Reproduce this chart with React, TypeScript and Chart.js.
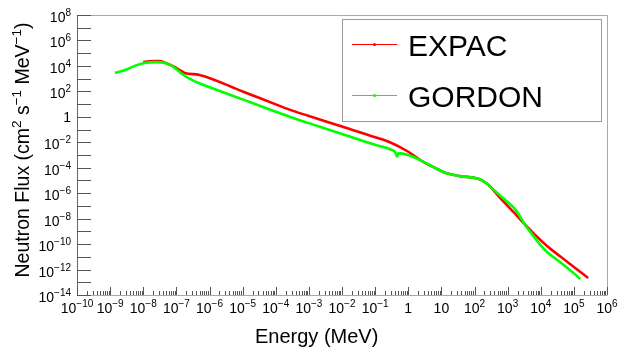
import React, { useEffect, useRef } from "react";
import { Chart, registerables } from "chart.js";

Chart.register(...registerables);

// ---- data (energy in MeV, flux in cm^-2 s^-1 MeV^-1) ----
const expacEnergy = [
  1.0e-8, 1.5e-8, 2.2e-8, 3.2e-8, 5.0e-8, 9.0e-8, 1.4e-7, 1.8e-7, 5.0e-7,
  1.0e-5, 1.0e-4, 2.7e-4, 1.0e-3, 1.0e-2, 0.1, 0.28, 1.0, 2.5, 6.3, 13, 36,
  100, 150, 250, 400, 630, 1000, 1600, 3300, 6300, 1.55e4, 4.0e4, 1.0e5, 2.7e5,
];
const expacFlux = [
  2.0e4, 2.3e4, 2.45e4, 2.4e4, 1.6e4, 8.0e3, 4.0e3, 2.8e3, 1.95e3,
  98, 9.5, 3.5, 1.16, 0.17, 0.025, 0.01, 1.8e-3, 3.5e-4, 1.0e-4, 4.0e-5, 2.2e-5,
  1.6e-5, 1.2e-5, 5.0e-6, 1.4e-6, 3.5e-7, 1.0e-7, 2.8e-8, 3.5e-9, 6.3e-10, 7.0e-11, 1.0e-11, 1.6e-12, 2.2e-13,
];
const gordonEnergy = [
  1.4e-9, 3.0e-9, 6.0e-9, 1.1e-8, 2.6e-8, 4.5e-8, 6.5e-8, 1.0e-7, 1.6e-7,
  3.2e-7, 5.1e-7, 1.0e-5, 1.0e-4, 2.7e-4, 1.0e-3, 1.0e-2, 0.1, 0.28, 0.4,
  0.46, 0.5, 1.0, 2.5, 6.3, 13, 36, 100, 150, 250, 400, 630, 1000, 1600, 2200,
  3300, 5000, 1.0e4, 1.55e4, 4.0e4, 1.0e5, 1.55e5,
];
const gordonFlux = [
  2.75e3, 5.0e3, 1.1e4, 1.7e4, 2.0e4, 1.7e4, 1.2e4, 5.5e3, 2.0e3,
  7.0e2, 4.2e2, 23.5, 2.5, 0.98, 0.32, 0.045, 6.3e-3, 2.8e-3, 1.7e-3,
  7.5e-4, 1.4e-3, 1.0e-3, 3.5e-4, 1.0e-4, 4.0e-5, 2.2e-5, 1.6e-5, 1.2e-5, 5.0e-6, 1.6e-6, 5.6e-7, 2.0e-7, 6.3e-8, 2.0e-8,
  3.5e-9, 8.0e-10, 8.0e-11, 2.4e-11, 3.5e-12, 5.0e-13, 1.8e-13,
];

const seriesNames = ["EXPAC", "GORDON"];
const seriesColors = ["#ff0000", "#00ff00"];
const xTickExponents = [-10, -9, -8, -7, -6, -5, -4, -3, -2, -1, 0, 1, 2, 3, 4, 5, 6];
const yLabelExponents = [8, 6, 4, 2, 0, -2, -4, -6, -8, -10, -12, -14];
const xTitle = "Energy (MeV)";
const yTitleParts: { t: string; sup?: boolean }[] = [
  { t: "Neutron Flux (cm" },
  { t: "2", sup: true },
  { t: " s" },
  { t: "\u22121", sup: true },
  { t: " MeV" },
  { t: "\u22121", sup: true },
  { t: ")" },
];

const FONT = '"Liberation Sans", Arial, Helvetica, sans-serif';

function powerParts(exp: number, useTen: boolean) {
  if (exp === 0) return { base: "1", sup: "" };
  if (exp === 1 && useTen) return { base: "10", sup: "" };
  return { base: "10", sup: exp < 0 ? "\u2212" + -exp : String(exp) };
}

function drawPower(
  ctx: CanvasRenderingContext2D,
  exp: number,
  x: number,
  y: number,
  align: "center" | "right",
  useTen: boolean
) {
  const size = 14;
  const supSize = 10;
  const raise = 6;
  const { base, sup } = powerParts(exp, useTen);
  ctx.font = `${size}px ${FONT}`;
  const bw = ctx.measureText(base).width;
  ctx.font = `${supSize}px ${FONT}`;
  const sw = sup ? ctx.measureText(sup).width : 0;
  const total = bw + sw;
  const x0 = align === "center" ? x - total / 2 : x - total;
  ctx.textAlign = "left";
  ctx.textBaseline = "alphabetic";
  ctx.font = `${size}px ${FONT}`;
  ctx.fillText(base, x0, y);
  if (sup) {
    ctx.font = `${supSize}px ${FONT}`;
    ctx.fillText(sup, x0 + bw, y - raise);
  }
}

const rootPlugin = {
  id: "rootStyle",
  beforeDatasetsDraw(chart: any) {
    const ctx: CanvasRenderingContext2D = chart.ctx;
    const xs = chart.scales.x;
    const ys = chart.scales.y;
    const { left, right, top, bottom } = chart.chartArea;
    ctx.save();
    // frame
    ctx.strokeStyle = "#a8a8a8";
    ctx.lineWidth = 1;
    ctx.beginPath();
    ctx.moveTo(left, top + 0.5);
    ctx.lineTo(right + 0.5, top + 0.5);
    ctx.lineTo(right + 0.5, bottom);
    ctx.stroke();
    ctx.beginPath();
    ctx.moveTo(left, bottom + 0.5);
    ctx.lineTo(right + 0.5, bottom + 0.5);
    ctx.stroke();
    ctx.strokeStyle = "#666";
    ctx.beginPath();
    ctx.moveTo(left + 0.5, top);
    ctx.lineTo(left + 0.5, bottom + 0.5);
    ctx.stroke();

    // x ticks
    ctx.strokeStyle = "#555";
    ctx.beginPath();
    for (const n of xTickExponents) {
      const px = Math.round(xs.getPixelForValue(Math.pow(10, n))) + 0.5;
      ctx.moveTo(px, bottom);
      ctx.lineTo(px, bottom - 8);
      if (n < 6) {
        for (let k = 2; k <= 9; k++) {
          const mx = Math.round(xs.getPixelForValue(k * Math.pow(10, n))) + 0.5;
          ctx.moveTo(mx, bottom);
          ctx.lineTo(mx, bottom - 4);
        }
      }
    }
    ctx.stroke();
    // y ticks
    ctx.beginPath();
    for (let n = -14; n <= 8; n++) {
      const py = Math.round(ys.getPixelForValue(Math.pow(10, n))) + 0.5;
      ctx.moveTo(left, py);
      ctx.lineTo(left + 14, py);
    }
    ctx.stroke();

    // tick labels
    ctx.fillStyle = "#000";
    for (const n of xTickExponents) {
      const px = xs.getPixelForValue(Math.pow(10, n));
      drawPower(ctx, n, px, 313, "center", true);
    }
    for (const n of yLabelExponents) {
      const py = ys.getPixelForValue(Math.pow(10, n));
      drawPower(ctx, n, 71, py + (n === 0 ? 5.5 : 7), "right", false);
    }

    // x title
    ctx.font = `20px ${FONT}`;
    ctx.textAlign = "left";
    ctx.fillText(xTitle, 255, 343);

    // y title (rotated)
    const mainSize = 19.5;
    const supSize = 13.5;
    let w = 0;
    for (const p of yTitleParts) {
      ctx.font = `${p.sup ? supSize : mainSize}px ${FONT}`;
      w += ctx.measureText(p.t).width;
    }
    ctx.save();
    ctx.translate(28.5, 150);
    ctx.rotate(-Math.PI / 2);
    let cx = -w / 2;
    for (const p of yTitleParts) {
      ctx.font = `${p.sup ? supSize : mainSize}px ${FONT}`;
      ctx.fillText(p.t, cx, p.sup ? -8 : 0);
      cx += ctx.measureText(p.t).width;
    }
    ctx.restore();
    ctx.restore();
  },
  afterDatasetsDraw(chart: any) {
    const ctx: CanvasRenderingContext2D = chart.ctx;
    ctx.save();
    ctx.fillStyle = "#fff";
    ctx.fillRect(342, 19, 259, 102);
    ctx.strokeStyle = "#999";
    ctx.lineWidth = 1;
    ctx.strokeRect(342.5, 19.5, 259, 102);
    const rows = [44, 95];
    seriesNames.forEach((name, i) => {
      const y = rows[i];
      ctx.strokeStyle = seriesColors[i];
      ctx.lineWidth = 1.2;
      ctx.beginPath();
      ctx.moveTo(352, y + 0.5);
      ctx.lineTo(397, y + 0.5);
      ctx.stroke();
      ctx.fillStyle = seriesColors[i];
      ctx.beginPath();
      ctx.arc(374.5, y + 0.5, 1.6, 0, Math.PI * 2);
      ctx.fill();
      ctx.fillStyle = "#000";
      ctx.font = `30px ${FONT}`;
      ctx.textAlign = "left";
      ctx.textBaseline = "alphabetic";
      ctx.fillText(name, 408, y + 11.5);
    });
    ctx.restore();
  },
};

export default function App() {
  const canvasRef = useRef<HTMLCanvasElement | null>(null);
  useEffect(() => {
    const canvas = canvasRef.current;
    if (!canvas) return;
    const mk = (xs: number[], ys: number[]) => xs.map((x, i) => ({ x, y: ys[i] }));
    const chart = new Chart(canvas, {
      type: "line",
      data: {
        datasets: [
          {
            label: seriesNames[0],
            data: mk(expacEnergy, expacFlux),
            borderColor: seriesColors[0],
            backgroundColor: seriesColors[0],
            borderWidth: 2.6,
            pointRadius: 0,
            fill: false,
            cubicInterpolationMode: "monotone",
            order: 1,
          },
          {
            label: seriesNames[1],
            data: mk(gordonEnergy, gordonFlux),
            borderColor: seriesColors[1],
            backgroundColor: seriesColors[1],
            borderWidth: 2.6,
            pointRadius: 0,
            fill: false,
            cubicInterpolationMode: "monotone",
            order: 0,
          },
        ],
      },
      options: {
        responsive: false,
        animation: false,
        devicePixelRatio: 1,
        parsing: true,
        layout: { padding: { left: 77, top: 15, right: 11, bottom: 56 } },
        plugins: { legend: { display: false }, tooltip: { enabled: false } },
        scales: {
          x: { type: "logarithmic", min: 1e-10, max: 1e6, display: false },
          y: { type: "logarithmic", min: 1e-14, max: 1e8, display: false },
        },
      },
      plugins: [rootPlugin],
    } as any);
    return () => chart.destroy();
  }, []);
  return (
    <div style={{ position: "fixed", left: 0, top: 0, width: 618, height: 351, background: "#fff" }}>
      <canvas ref={canvasRef} width={618} height={351} />
    </div>
  );
}
